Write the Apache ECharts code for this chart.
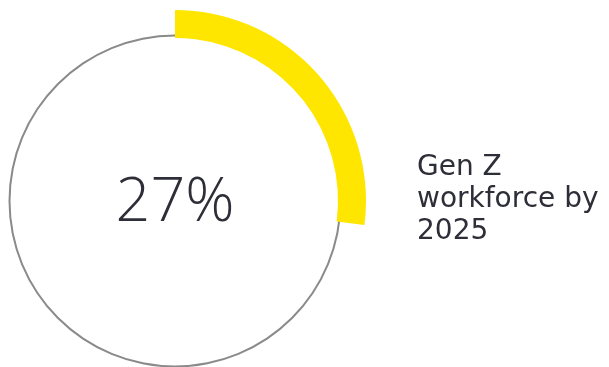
<!DOCTYPE html>
<html><head><meta charset="utf-8">
<script src="https://cdn.jsdelivr.net/npm/echarts@6/dist/echarts.min.js"></script>
<style>html,body{margin:0;padding:0;background:#fff}#c{width:609px;height:367px}</style>
</head><body><div id="c"></div>
<script>
var shareLabel = '27%';
var shareValue = 27;
var restValue = 73;
var caption = 'Gen Z\nworkforce by\n2025';

var chart = echarts.init(document.getElementById('c'));
chart.setOption({
  animation: false,
  series: [
    {
      type: 'pie', center: [175, 201], radius: [164.5, 166.5], silent: true,
      label: {show: false}, startAngle: 90,
      data: [{value: 1, itemStyle: {color: '#8a8a8a'}}]
    },
    {
      type: 'pie', center: [175, 201], radius: [163, 191], startAngle: 90, clockwise: true,
      silent: true, label: {show: false}, z: 3,
      data: [
        {value: shareValue, itemStyle: {color: '#ffe600'}},
        {value: restValue, itemStyle: {color: 'rgba(0,0,0,0)'}}
      ]
    }
  ],
  graphic: [
    {type: 'text', style: {
      text: shareLabel, x: 175, y: 204, align: 'center', verticalAlign: 'middle',
      font: '300 61px "Open Sans", sans-serif', fill: '#2e2e38'}},
    {type: 'text', style: {
      text: caption, x: 417, y: 152, align: 'left', verticalAlign: 'top',
      font: '400 28px "DejaVu Sans", sans-serif', lineHeight: 32, fill: '#2e2e38'}}
  ]
});
</script></body></html>
